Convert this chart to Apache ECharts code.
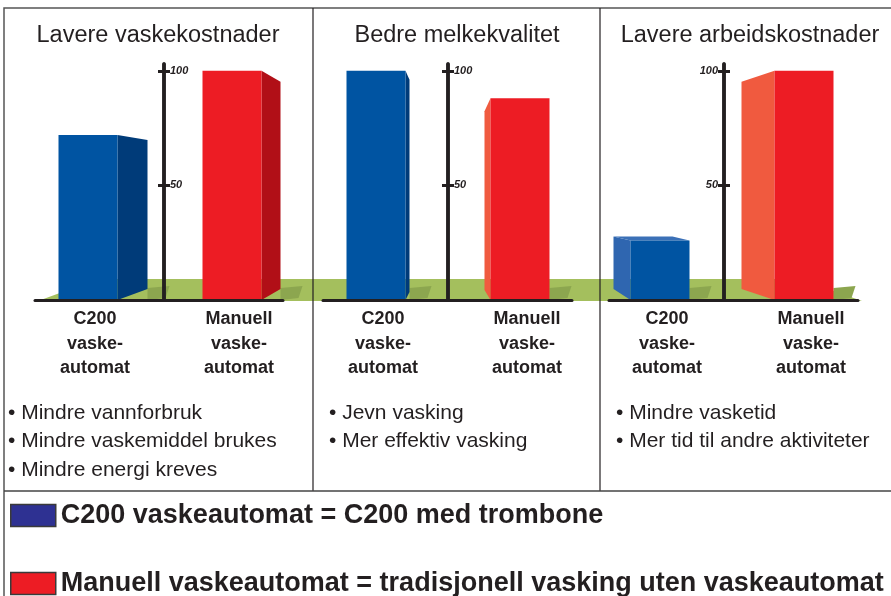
<!DOCTYPE html>
<html>
<head>
<meta charset="utf-8">
<script src="https://cdn.jsdelivr.net/npm/echarts@6.0.0/dist/echarts.min.js"></script>
<style>
  html, body { margin: 0; padding: 0; background: #fff; }
  #main { width: 891px; height: 596px; }
</style>
</head>
<body>
<div id="main"></div>
<script>
// data
var panelTitles = ['Lavere vaskekostnader', 'Bedre melkekvalitet', 'Lavere arbeidskostnader'];
var categories = ['C200 vaskeautomat', 'Manuell vaskeautomat'];
var categoryLabels = ['C200\nvaske-\nautomat', 'Manuell\nvaske-\nautomat'];
var c200Values = [72, 100, 26];
var manuellValues = [100, 88, 100];
var yTicks = [50, 100];
var bulletLists = [
    ['Mindre vannforbruk', 'Mindre vaskemiddel brukes', 'Mindre energi kreves'],
    ['Jevn vasking', 'Mer effektiv vasking'],
    ['Mindre vasketid', 'Mer tid til andre aktiviteter']
];
var legendNotes = ['C200 med trombone', 'tradisjonell vasking uten vaskeautomat'];

var seriesValues = [c200Values, manuellValues];

// layout / styles
var FONT = '"Liberation Sans", Arial, Helvetica, sans-serif';
var INK = '#231f20';
var panels = [
    {left: 35, right: 283, axisX: 164, titleX: 158, bulletX: 8, labelSide: 'right'},
    {left: 323, right: 572, axisX: 448, titleX: 457, bulletX: 329, labelSide: 'right'},
    {left: 609, right: 858, axisX: 724, titleX: 750, bulletX: 616, labelSide: 'left'}
];
var unit = 72;          // px from axis to bar centre
var barW = 59;
var barShift = [-4, 0, 8];
var palette = [
    {front: '#0054a2', dark: '#003b79', light: '#2f66b0', top: '#3b70b7'},
    {front: '#ed1c24', dark: '#b10f17', light: '#f05a3f', top: '#f27055'}
];
var legendColors = ['#2e3192', '#ed1c24'];
// visible side face of every bar: panel -> category
var faces = [
    [{side: 'right', w: 30, dt: 5, db: 11, shade: 'dark'}, {side: 'right', w: 19, dt: 11, db: 11, shade: 'dark'}],
    [{side: 'right', w: 4, dt: 9, db: 8, shade: 'dark'}, {side: 'left', w: 6, dt: 13, db: 10, shade: 'light'}],
    [{side: 'left', w: 17, dt: -4, db: 11, shade: 'light'}, {side: 'left', w: 33, dt: 11, db: 11, shade: 'light'}]
];

function renderBar(p, c) {
    return function (params, api) {
        var base = api.coord([api.value(0), 0]);
        var top = api.coord([api.value(0), api.value(1)]);
        var f = faces[p][c];
        var col = palette[c];
        var cx = top[0] + barShift[p];
        var x0 = cx - barW / 2, x1 = cx + barW / 2;
        var y0 = top[1], yb = base[1];
        var sx = f.side === 'right' ? x1 : x0;
        var ox = f.side === 'right' ? x1 + f.w : x0 - f.w;
        var xr = f.side === 'right' ? ox : x1;
        var children = [];
        // shadow on the floor
        children.push({
            type: 'polygon',
            shape: {points: [[xr, yb], [xr + 18, yb - 2], [xr + 22, yb - 14], [xr, yb - 12]]},
            style: {fill: '#8ca64f'}
        });
        children.push({
            type: 'polygon',
            shape: {points: [[sx, y0], [ox, y0 + f.dt], [ox, yb - f.db], [sx, yb]]},
            style: {fill: col[f.shade]}
        });
        if (f.dt < 0) {
            children.push({
                type: 'polygon',
                shape: {points: [[x0, y0], [ox, y0 + f.dt], [x1 - f.w, y0 + f.dt], [x1, y0]]},
                style: {fill: col.top}
            });
        }
        children.push({
            type: 'rect',
            shape: {x: x0, y: y0, width: barW, height: yb - y0},
            style: {fill: col.front}
        });
        children.push({
            type: 'text',
            style: {
                text: categoryLabels[c], x: cx + 7, y: yb + 7,
                align: 'center', verticalAlign: 'top',
                fontSize: 18, fontWeight: 'bold', fontFamily: FONT,
                lineHeight: 24.5, fill: INK
            }
        });
        return {type: 'group', children: children};
    };
}

var grids = [], xAxes = [], yAxes = [], series = [], titles = [], graphics = [];

panels.forEach(function (p, i) {
    grids.push({left: p.left, width: p.right - p.left, top: 64, height: 236});
    xAxes.push({
        gridIndex: i, type: 'value',
        min: (p.left - p.axisX) / unit, max: (p.right - p.axisX) / unit,
        z: 5,
        axisLine: {show: true, onZero: false, lineStyle: {color: INK, width: 3}},
        axisTick: {show: false}, axisLabel: {show: false}, splitLine: {show: false}
    });
    // two axes on the same line: ticks then cross it on both sides
    ['left', 'right'].forEach(function (pos) {
        yAxes.push({
            gridIndex: i, type: 'value', position: pos, min: 0, max: 103, z: 5,
            offset: pos === 'left' ? -(p.axisX - p.left) : -(p.right - p.axisX),
            axisLine: {show: true, onZero: false, lineStyle: {color: INK, width: 3.5}},
            axisTick: {show: true, length: 6, customValues: yTicks, lineStyle: {color: INK, width: 3}},
            axisLabel: {
                show: pos === p.labelSide, customValues: yTicks, margin: 6,
                fontSize: 11, fontStyle: 'italic', fontWeight: 'bold', fontFamily: FONT, color: INK
            },
            splitLine: {show: false}
        });
    });
    categories.forEach(function (name, c) {
        series.push({
            type: 'custom', name: name, xAxisIndex: i, yAxisIndex: i * 2,
            clip: false, z: 2,
            itemStyle: {color: palette[c].front},
            renderItem: renderBar(i, c),
            data: [[c * 2 - 1, seriesValues[c][i]]]
        });
    });
    titles.push({
        text: panelTitles[i], left: p.titleX, top: 24, textAlign: 'center', padding: 0,
        textStyle: {fontSize: 23.5, fontWeight: 'normal', fontFamily: FONT, color: INK}
    });
    bulletLists[i].forEach(function (t, k) {
        graphics.push({
            type: 'text', x: p.bulletX, y: 413 + k * 28.5, z: 3,
            style: {text: '\u2022 ' + t, fontSize: 21, fontFamily: FONT, fill: INK, verticalAlign: 'middle'}
        });
    });
});

// floor
graphics.push({
    type: 'polygon', z: 0,
    shape: {points: [[38, 301], [98, 279], [800, 279], [862, 301]]},
    style: {fill: '#a4bf5d'}
});
// frame
graphics.push({type: 'rect', z: 10, shape: {x: 4, y: 8, width: 900, height: 600},
    style: {fill: 'none', stroke: '#555', lineWidth: 1.5}});
graphics.push({type: 'line', z: 10, shape: {x1: 313, y1: 8, x2: 313, y2: 491},
    style: {stroke: INK, lineWidth: 1.2}});
graphics.push({type: 'line', z: 10, shape: {x1: 600, y1: 8, x2: 600, y2: 491},
    style: {stroke: INK, lineWidth: 1.2}});
graphics.push({type: 'line', z: 10, shape: {x1: 4, y1: 491, x2: 891, y2: 491},
    style: {stroke: '#444', lineWidth: 1.5}});

var legends = categories.map(function (name, i) {
    return {
        data: [{name: name, itemStyle: {color: legendColors[i], borderColor: '#3a3a3a', borderWidth: 1.5}}],
        left: 10, top: [502, 570][i], padding: 0,
        icon: 'rect', itemWidth: 45, itemHeight: 22, selectedMode: false,
        formatter: function (n) { return n + ' = ' + legendNotes[i]; },
        textStyle: {fontSize: 27, fontWeight: 'bold', fontFamily: FONT, color: INK}
    };
});

var chart = echarts.init(document.getElementById('main'));
chart.setOption({
    animation: false,
    backgroundColor: '#fff',
    title: titles,
    legend: legends,
    grid: grids,
    xAxis: xAxes,
    yAxis: yAxes,
    series: series,
    graphic: {elements: graphics}
});
</script>
</body>
</html>
